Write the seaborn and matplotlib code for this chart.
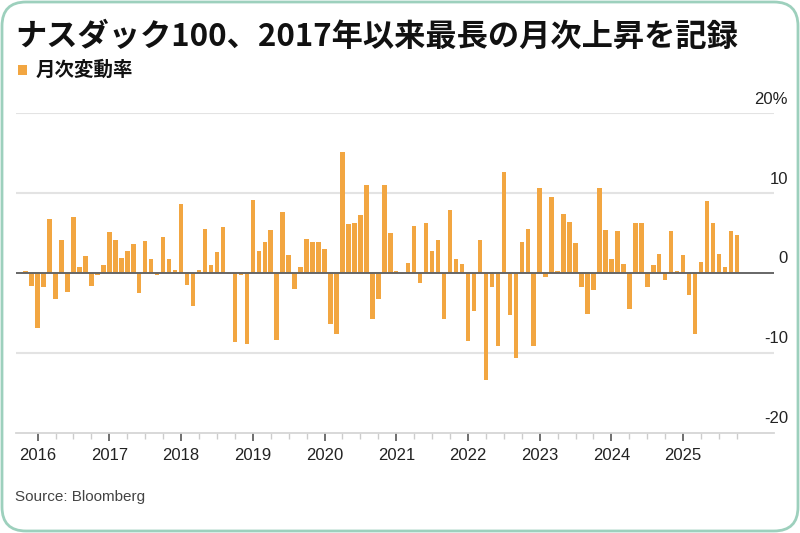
import matplotlib
matplotlib.use("Agg")
import matplotlib.pyplot as plt
import matplotlib.transforms as mtransforms
from matplotlib.patches import FancyBboxPatch, Rectangle
import seaborn as sns

# Nasdaq 100 monthly change (%), Nov 2015 - Oct 2025
start_year, start_month = 2015, 11
returns = [
    0.3, -1.6,                                                        # 2015 Nov-Dec
    -6.9, -1.8, 6.7, -3.2, 4.1, -2.4, 7.0, 0.8, 2.1, -1.6, -0.3, 1.0,  # 2016
    5.1, 4.1, 1.9, 2.7, 3.6, -2.5, 4.0, 1.7, -0.3, 4.5, 1.7, 0.4,     # 2017
    8.6, -1.5, -4.1, 0.4, 5.5, 1.0, 2.6, 5.8, -0.1, -8.6, -0.2, -8.9,  # 2018
    9.1, 2.7, 3.9, 5.4, -8.4, 7.6, 2.3, -2.0, 0.7, 4.3, 3.9, 3.9,     # 2019
    3.0, -6.4, -7.7, 15.1, 6.1, 6.2, 7.3, 11.0, -5.8, -3.2, 11.0, 5.0,  # 2020
    0.3, -0.1, 1.3, 5.9, -1.3, 6.3, 2.7, 4.1, -5.8, 7.9, 1.7, 1.1,    # 2021
    -8.5, -4.7, 4.1, -13.4, -1.7, -9.1, 12.6, -5.3, -10.6, 3.9, 5.5, -9.1,  # 2022
    10.6, -0.5, 9.5, 0.3, 7.4, 6.4, 3.8, -1.7, -5.1, -2.1, 10.7, 5.4,  # 2023
    1.7, 5.2, 1.1, -4.5, 6.2, 6.2, -1.7, 1.0, 2.4, -0.9, 5.2, 0.3,    # 2024
    2.2, -2.8, -7.7, 1.4, 9.0, 6.3, 2.4, 0.8, 5.3, 4.8,               # 2025
]
years = list(range(2016, 2026))
y_ticks = [20, 10, 0, -10, -20]
y_labels = ["20%", "10", "0", "-10", "-20"]

title = "ナスダック100、2017年以来最長の月次上昇を記録"
legend_label = "月次変動率"
source = "Source: Bloomberg"

bar_color = "#F2A641"
cjk = ["Noto Sans CJK JP", "DejaVu Sans"]
latin = ["Liberation Sans", "DejaVu Sans"]

sns.set_style("white")
plt.rcParams["font.family"] = latin

fig = plt.figure(figsize=(8, 5.33), dpi=100)
ax = fig.add_axes([0.02, 0.1882, 0.9475, 0.5993])

idx = list(range(len(returns)))
sns.barplot(x=idx, y=returns, color=bar_color, saturation=1, width=0.75,
            linewidth=0, edgecolor=bar_color, ax=ax, zorder=2)

ax.set_xlim(-1.62, 125.2)
ax.set_ylim(-20, 20)

# gridlines + zero line
for v in [20, 10, -10]:
    ax.axhline(v, color="#e3e3e3", lw=1.5, zorder=0)
ax.axhline(0, color="#666666", lw=1.4, zorder=3)

# y labels on the right, sitting above the gridlines
trans = mtransforms.blended_transform_factory(fig.transFigure, ax.transData)
for v, lab in zip(y_ticks, y_labels):
    ax.annotate(lab, xy=(0.985, v), xycoords=trans, xytext=(0, 14),
                textcoords="offset pixels", ha="right", va="center",
                fontsize=12, color="#222222", annotation_clip=False)
ax.set_yticks([])
ax.set_ylabel("")

# x ticks: Jan of each year (major), quarters (minor)
first_jan = (13 - start_month) % 12
majors = [first_jan + 12 * k for k in range(len(years))]
minors = [i for i in range(first_jan, len(returns), 3) if i not in majors]
ax.set_xticks(majors)
ax.set_xticklabels([str(y) for y in years], fontsize=12, color="#222222")
ax.set_xticks(minors, minor=True)
ax.tick_params(axis="x", which="major", length=6, width=1.2, color="#555555",
               pad=5, bottom=True)
ax.tick_params(axis="x", which="minor", length=4, width=1, color="#cccccc",
               bottom=True)
ax.set_xlabel("")

for s in ["top", "right", "left"]:
    ax.spines[s].set_visible(False)
ax.spines["bottom"].set_color("#d6d6d6")
ax.spines["bottom"].set_linewidth(1.3)

# title, legend, source
fig.text(15 / 800, 1 - 37 / 533, title, fontsize=22.5, fontweight="bold",
         family=cjk, va="center", ha="left", color="#111111")
fig.add_artist(Rectangle((18 / 800, 1 - 75 / 533), 9 / 800, 10 / 533,
                         transform=fig.transFigure, color=bar_color, lw=0))
fig.text(36 / 800, 1 - 70 / 533, legend_label, fontsize=14, fontweight="bold",
         family=cjk, va="center", ha="left", color="#111111")
fig.text(15 / 800, 1 - 497 / 533, source, fontsize=11, va="center",
         ha="left", color="#444444")

# rounded frame
frame = FancyBboxPatch((2, 2), 796, 529,
                       boxstyle="round,pad=0,rounding_size=24",
                       transform=mtransforms.IdentityTransform(),
                       fill=False, edgecolor="#9dd0bd", lw=2)
fig.add_artist(frame)

fig.savefig("out.png", dpi=100)
